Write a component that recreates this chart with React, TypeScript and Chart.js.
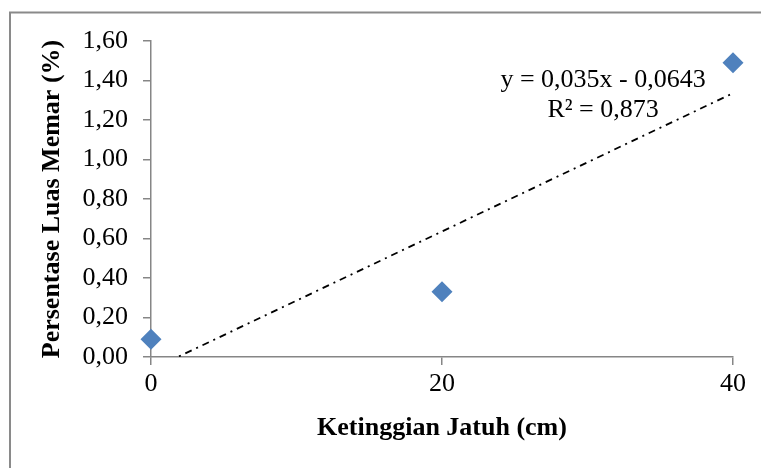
import React, { useEffect, useRef } from "react";
import { Chart, registerables } from "chart.js";

Chart.register(...registerables);

const heights = [0, 20, 40];
const bruisePct = [0.09, 0.33, 1.49];
const trendX = [0, 40];
const trendY = [-0.0643, 1.3357];
const equationLines = ["y = 0,035x - 0,0643", "R² = 0,873"];
const xTitle = "Ketinggian Jatuh (cm)";
const yTitle = "Persentase Luas Memar (%)";

const FONT = "'Liberation Serif', 'Times New Roman', serif";
const FS = 26;
const AXIS = "#868686";

const framePlugin = {
  id: "frame",
  beforeDraw(chart: any) {
    const ctx = chart.ctx;
    ctx.save();
    ctx.fillStyle = "#ffffff";
    ctx.fillRect(0, 0, chart.width, chart.height);
    ctx.strokeStyle = "#8a8a8a";
    ctx.lineWidth = 2;
    ctx.strokeRect(10, 12.5, chart.width + 20, chart.height + 20);
    ctx.restore();
  },
};

const equationPlugin = {
  id: "equation",
  afterDraw(chart: any) {
    const ctx = chart.ctx;
    ctx.save();
    ctx.font = `${FS}px ${FONT}`;
    ctx.fillStyle = "#000";
    ctx.textAlign = "center";
    ctx.textBaseline = "alphabetic";
    const xs = chart.scales.x;
    const ys = chart.scales.y;
    const cx = xs.getPixelForValue(31.07);
    ctx.fillText(equationLines[0], cx, ys.getPixelForValue(1.367));
    ctx.fillText(equationLines[1], cx, ys.getPixelForValue(1.215));
    ctx.restore();
  },
};

export default function App() {
  const ref = useRef<HTMLCanvasElement>(null);
  useEffect(() => {
    if (!ref.current) return;
    const chart = new Chart(ref.current, {
      type: "scatter",
      data: {
        datasets: [
          {
            label: "data",
            data: heights.map((x, i) => ({ x, y: bruisePct[i] })),
            pointStyle: "rectRot",
            pointRadius: 10.5,
            pointHoverRadius: 10.5,
            backgroundColor: "#4F81BD",
            borderColor: "#4F81BD",
            borderWidth: 0,
            clip: false,
            order: 0,
          } as any,
          {
            type: "line",
            label: "trend",
            data: trendX.map((x, i) => ({ x, y: trendY[i] })),
            borderColor: "#000",
            borderWidth: 1.8,
            borderDash: [7, 5, 2, 5],
            pointRadius: 0,
            fill: false,
            order: 1,
          } as any,
        ],
      },
      options: {
        responsive: false,
        animation: false,
        events: [],
        layout: { padding: { top: 41, right: 28, left: 0, bottom: 0 } },
        plugins: {
          legend: { display: false },
          tooltip: { enabled: false },
        },
        scales: {
          x: {
            type: "linear",
            min: 0,
            max: 40,
            ticks: {
              stepSize: 20,
              padding: 4,
              color: "#000",
              font: { family: FONT, size: FS },
            },
            grid: {
              display: true,
              drawOnChartArea: false,
              drawTicks: true,
              tickLength: 8,
              color: AXIS,
              lineWidth: 1.5,
            },
            border: { display: true, color: AXIS, width: 1.5 },
            title: {
              display: true,
              text: xTitle,
              color: "#000",
              font: { family: FONT, size: FS, weight: "bold" },
              padding: { top: 0, bottom: 24 },
            },
            afterFit(scale: any) {
              scale.height = 111;
            },
          },
          y: {
            type: "linear",
            min: 0,
            max: 1.6,
            ticks: {
              stepSize: 0.2,
              padding: 15,
              color: "#000",
              font: { family: FONT, size: FS },
              callback: (v: any) => Number(v).toFixed(2).replace(".", ","),
            },
            grid: {
              display: true,
              drawOnChartArea: false,
              drawTicks: true,
              tickLength: 8,
              color: AXIS,
              lineWidth: 1.5,
            },
            border: { display: true, color: AXIS, width: 1.5 },
            title: {
              display: true,
              text: yTitle,
              color: "#000",
              font: { family: FONT, size: FS, weight: "bold" },
              padding: { top: 37, bottom: 0 },
            },
            afterFit(scale: any) {
              scale.width = 151;
            },
          },
        },
      } as any,
      plugins: [framePlugin, equationPlugin],
    });
    return () => chart.destroy();
  }, []);
  return (
    <div style={{ position: "fixed", left: 0, top: 0, width: 761, height: 468, background: "#fff" }}>
      <canvas ref={ref} width={761} height={468} style={{ display: "block" }} />
    </div>
  );
}
